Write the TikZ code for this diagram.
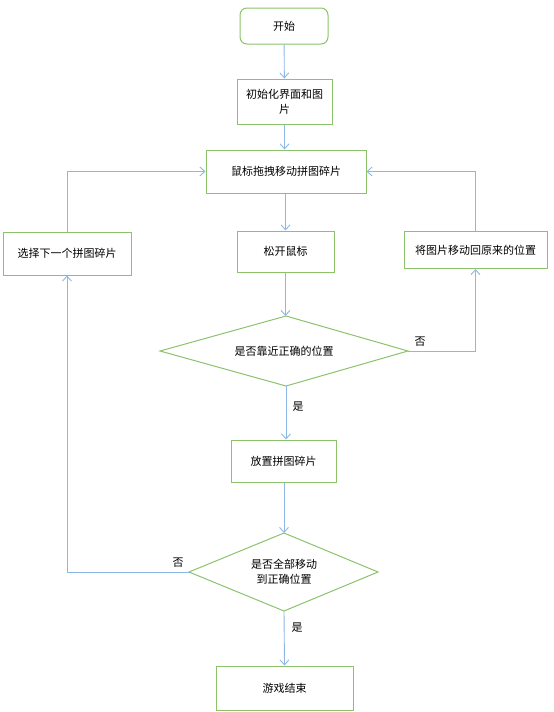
\documentclass[tikz,border=0pt]{standalone}
\usepackage{fontspec}
\setmainfont{Noto Sans CJK SC}
\usetikzlibrary{arrows.meta,shapes.geometric}
\definecolor{gborder}{HTML}{8CC26C}
\definecolor{bline}{HTML}{8DB8E6}
\begin{document}
\begin{tikzpicture}[x=1pt,y=-1pt,
  font=\fontsize{11}{15}\selectfont,
  box/.style={draw=gborder,line width=1pt,fill=white,inner sep=0pt,align=center},
  dia/.style={draw=gborder,line width=1pt,inner sep=0pt,align=center},
  conn/.style={draw=bline,line width=0.9pt,-{Straight Barb[length=5pt,width=9pt]}},
  lbl/.style={inner sep=0pt}]
\useasboundingbox (0,0) rectangle (554,712);
\node[box,rounded corners=7pt,minimum width=88pt,minimum height=36pt] (start) at (284,26) {开始};
\node[box,minimum width=95pt,minimum height=45pt] (init) at (284.5,101.5) {初始化界面和图\\片};
\node[box,minimum width=160pt,minimum height=43pt] (drag) at (286,171.5) {鼠标拖拽移动拼图碎片};
\node[box,minimum width=128pt,minimum height=43pt] (next) at (67,253.5) {选择下一个拼图碎片};
\node[box,minimum width=97pt,minimum height=41pt] (release) at (285.5,251.5) {松开鼠标};
\node[box,minimum width=143pt,minimum height=37pt] (back) at (475.5,250) {将图片移动回原来的位置};
\draw[gborder,line width=1pt] (160,351) -- (286,316) -- (408,351) -- (286,386) -- cycle;
\coordinate (d1l) at (160,351); \coordinate (d1t) at (286,316);
\coordinate (d1r) at (408,351); \coordinate (d1b) at (286,386);
\node[lbl] (d1) at (284,351) {是否靠近正确的位置};
\node[box,minimum width=105pt,minimum height=42pt] (place) at (283.5,461) {放置拼图碎片};
\draw[gborder,line width=1pt] (189,572) -- (284,533) -- (378,572) -- (284,611) -- cycle;
\coordinate (d2l) at (189,572); \coordinate (d2t) at (284,533);
\coordinate (d2r) at (378,572); \coordinate (d2b) at (284,611);
\node[lbl,align=center] (d2) at (284,572) {是否全部移动\\到正确位置};
\node[box,minimum width=137pt,minimum height=44pt] (end) at (284.5,688) {游戏结束};
\draw[conn] (start) -- (init);
\draw[conn] (init.south) -- (init.south |- drag.north);
\draw[conn] (drag.south -| release) -- (release.north);
\draw[conn] (release.south) -- (release.south |- d1t);
\draw[conn] (d1r) -| (back.south);
\draw[conn] (back.north) |- (drag.east);
\draw[conn] (next.north) |- (drag.west);
\draw[conn] (d1b) -- (d1b |- place.north);
\draw[conn] (place.south -| d2t) -- (d2t);
\draw[conn] (d2l) -| (next.south);
\draw[conn] (d2b) -- (end.north);
\node[lbl] (no1) at (420,342) {否};
\node[lbl] (yes1) at (298,407) {是};
\node[lbl] (no2) at (178,563) {否};
\node[lbl] (yes2) at (297,628) {是};
\end{tikzpicture}
\end{document}
